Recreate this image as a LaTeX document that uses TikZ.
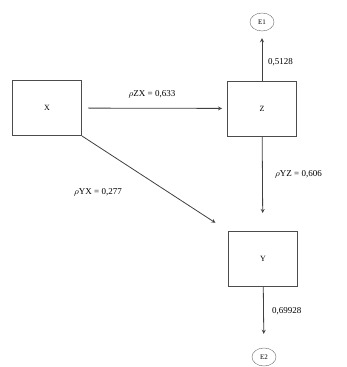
\documentclass[tikz,border=0pt]{standalone}
\usepackage{fontspec}
\setmainfont{Liberation Serif}
\usetikzlibrary{shapes.geometric}
\begin{document}
\begin{tikzpicture}[>=stealth,x=1pt,y=-1pt,
  var/.style={draw=black!70,line width=1pt,minimum width=69pt,minimum height=55pt,font=\fontsize{8}{9}\selectfont},
  err/.style={draw=black!60,ellipse,minimum width=24pt,minimum height=18pt,inner sep=0pt,font=\fontsize{7}{8}\selectfont},
  lab/.style={font=\fontsize{9}{10}\selectfont,inner sep=1pt},
  path/.style={->,draw=black!75,line width=0.8pt}]
 \useasboundingbox (0,0) rectangle (346,367);
 % variables
 \node[var] (X) at (47,108) {X};
 \node[var] (Z) at (262,108.5) {Z};
 \node[var] (Y) at (263,259) {Y};
 \node[err] (E1) at (262,22) {E1};
 \node[err] (E2) at (264,357) {E2};
 % paths
 \draw[path,shorten <=6pt,shorten >=5pt] (X) -- (Z);
 \draw[path,shorten >=18pt] (Z) -- (Y);
 \draw[path,shorten >=15pt] (X.south east) -- (Y.north west);
 \draw[path,shorten >=7pt] (Z) -- (E1);
 \draw[path,shorten >=14pt] (Y) -- (E2);
 % coefficients
 \node[lab] (zx) at (152,94) {$\rho$ZX = 0,633};
 \node[lab,anchor=west] (yz) at (274,174) {$\rho$YZ = 0,606};
 \node[lab] (yx) at (98,192) {$\rho$YX = 0,277};
 \node[lab,anchor=west] (e1) at (267,62) {0,5128};
 \node[lab,anchor=west] (e2) at (271,311) {0,69928};
\end{tikzpicture}
\end{document}
